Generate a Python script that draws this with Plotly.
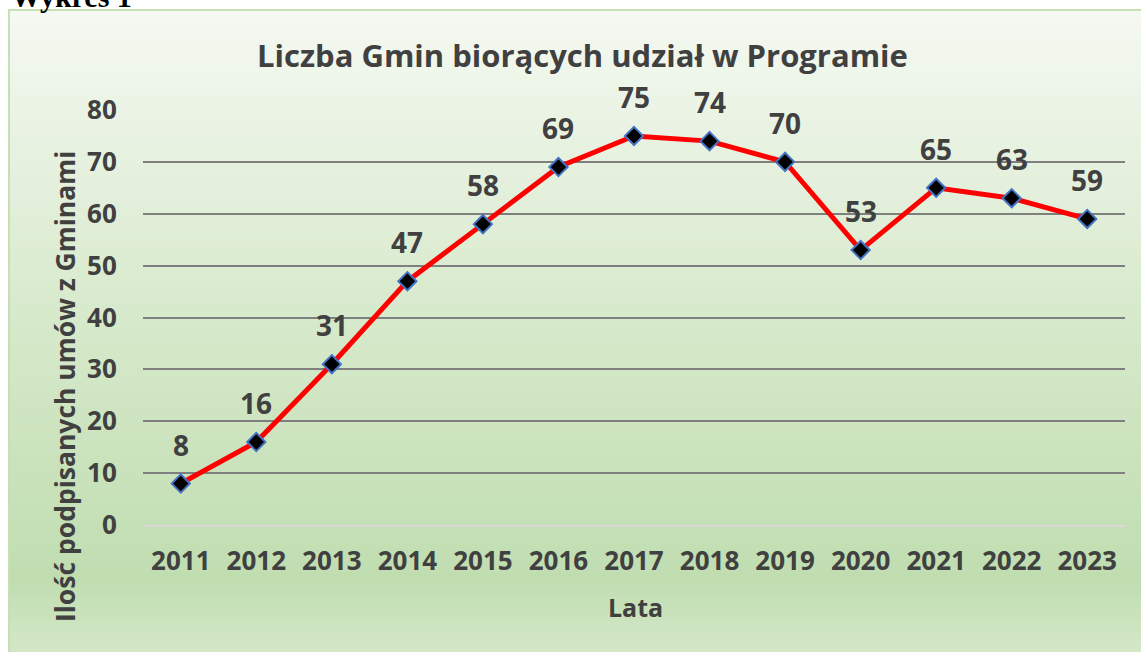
import plotly.graph_objects as go

years = ["2011", "2012", "2013", "2014", "2015", "2016", "2017", "2018", "2019", "2020", "2021", "2022", "2023"]
values = [8, 16, 31, 47, 58, 69, 75, 74, 70, 53, 65, 63, 59]
y_ticks = [0, 10, 20, 30, 40, 50, 60, 70, 80]

W, H = 1141, 652
# plot area in page pixels
L, R, T, B = 143, 1125, 110, 525


def px_x(px):
    return (px - L) / (R - L)


def px_y(py):
    return (B - py) / (B - T)


def hex2rgb(h):
    h = h.lstrip("#")
    return tuple(int(h[i:i + 2], 16) for i in (0, 2, 4))


stops = [(9, "#f5f9f2"), (120, "#eaf3e4"), (330, "#d6e9ca"), (580, "#c0ddb0"), (652, "#d4e8c8")]


def color_at(py):
    for (y0, c0), (y1, c1) in zip(stops[:-1], stops[1:]):
        if y0 <= py <= y1:
            t = (py - y0) / (y1 - y0)
            a, b = hex2rgb(c0), hex2rgb(c1)
            return "rgb(%d,%d,%d)" % tuple(round(a[i] + (b[i] - a[i]) * t) for i in range(3))
    return stops[-1][1]


shapes = []
step = 6
py = 9
while py < H:
    y2 = min(py + step + 1, H + 2)
    shapes.append(dict(type="rect", xref="paper", yref="paper", layer="below",
                       x0=px_x(8), x1=px_x(W + 5), y0=px_y(y2), y1=px_y(py),
                       fillcolor=color_at(py + step / 2), line=dict(width=0)))
    py += step
# border
shapes.append(dict(type="rect", xref="paper", yref="paper", layer="below",
                   x0=px_x(9), x1=px_x(W + 10), y0=px_y(H + 10), y1=px_y(10),
                   fillcolor="rgba(0,0,0,0)", line=dict(color="#c5e0b4", width=2)))

fig = go.Figure()
fig.add_trace(go.Scatter(
    x=years, y=values, mode="lines+markers",
    line=dict(color="#ff0000", width=5),
    marker=dict(symbol="diamond", size=14, color="black", line=dict(color="#4472c4", width=2)),
    cliponaxis=False, showlegend=False, hoverinfo="x+y",
))

annotations = []
for i, v in enumerate(values):
    annotations.append(dict(x=i, y=v, xref="x", yref="y", text=str(v), showarrow=False,
                            xanchor="center", yanchor="middle", yshift=39,
                            font=dict(family="Open Sans", size=28, color="#404040", weight="bold")))

annotations.append(dict(xref="paper", yref="paper", x=px_x(65), y=px_y(387), text="Ilość podpisanych umów z Gminami",
                        textangle=-90, showarrow=False, xanchor="center", yanchor="middle",
                        font=dict(family="Open Sans", size=26.5, color="#404040", weight="bold")))
annotations.append(dict(xref="paper", yref="paper", x=px_x(635), y=px_y(607), text="Lata", showarrow=False,
                        xanchor="center", yanchor="middle",
                        font=dict(family="Open Sans", size=25, color="#404040", weight="bold")))
annotations.append(dict(xref="paper", yref="paper", x=px_x(582), y=px_y(55),
                        text="Liczba Gmin biorących udział w Programie", showarrow=False,
                        xanchor="center", yanchor="middle",
                        font=dict(family="Open Sans", size=31, color="#404040", weight="bold")))
annotations.append(dict(xref="paper", yref="paper", x=px_x(9), y=px_y(15), xanchor="left", yanchor="bottom",
                        text="Wykres 1", showarrow=False,
                        font=dict(family="Liberation Serif", size=30, color="black", weight="bold")))

fig.update_layout(
    width=W, height=H,
    margin=dict(l=L, r=W - R, t=T, b=H - B, pad=0),
    paper_bgcolor="white", plot_bgcolor="rgba(0,0,0,0)",
    shapes=shapes, annotations=annotations, showlegend=False,
    xaxis=dict(type="category", range=[-0.5, 12.5], showgrid=False, zeroline=False,
               showline=True, linecolor="#d9d9d9", linewidth=2,
               ticks="outside", ticklen=12, tickcolor="rgba(0,0,0,0)",
               tickfont=dict(family="Open Sans", size=26, color="#404040", weight="bold")),
    yaxis=dict(range=[0, 80], tickvals=y_ticks, showgrid=True, gridcolor="#7f7f7f", gridwidth=2,
               zeroline=False, showline=False,
               ticks="outside", ticklen=20, tickcolor="rgba(0,0,0,0)",
               tickfont=dict(family="Open Sans", size=26, color="#404040", weight="bold")),
)

fig.write_html("out.html", config={"displayModeBar": False},
               post_script="document.body.style.margin='0';document.body.style.overflow='hidden';")
